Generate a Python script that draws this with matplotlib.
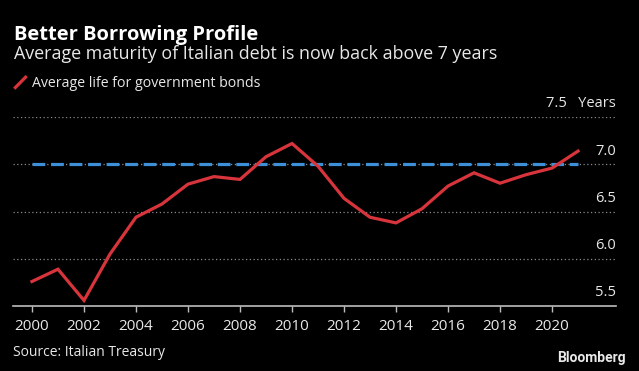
import matplotlib

matplotlib.use("Agg")
import matplotlib.pyplot as plt
from matplotlib.lines import Line2D

years = list(range(2000, 2022))
avg_life = [5.76, 5.89, 5.56, 6.05, 6.44, 6.58, 6.79, 6.87, 6.84, 7.08, 7.22,
            6.98, 6.64, 6.44, 6.38, 6.53, 6.77, 6.91, 6.80, 6.89, 6.96, 7.14]
reference_level = 7.0
y_ticks = [5.5, 6.0, 6.5, 7.0, 7.5]
y_labels = ["5.5", "6.0", "6.5", "7.0", "7.5   Years"]
x_ticks = list(range(2000, 2021, 2))

BG = "#000000"
TEXT = "#e8e8e8"
RED = "#d8343b"
BLUE = "#3d8fd8"
GRID = "#8a8a8a"
FONT = ["Open Sans", "DejaVu Sans"]

plt.rcParams["font.family"] = FONT

fig = plt.figure(figsize=(6.39, 3.71), dpi=100, facecolor=BG)
ax = fig.add_axes([0.0203, 0.175, 0.9437, 0.5095], facecolor=BG)

ax.set_xlim(1999.27, 2022.46)
ax.set_ylim(5.5, 7.5)

for v in y_ticks[1:]:
    ax.axhline(v, color=GRID, lw=0.9, ls=(0, (1, 2)), zorder=1)
for v, lab in zip(y_ticks, y_labels):
    ax.annotate(lab, xy=(1, v), xycoords=("axes fraction", "data"),
                xytext=(0, 9.5), textcoords="offset points",
                ha="right", va="center", color=TEXT, fontsize=10.5)

ax.plot([years[0], years[-1]], [reference_level, reference_level],
        color=BLUE, lw=2.3, ls=(0, (4, 1.8)), zorder=2)
ax.plot(years, avg_life, color=RED, lw=2.3, zorder=3, solid_joinstyle="miter")

for s in ["top", "right", "left"]:
    ax.spines[s].set_visible(False)
ax.spines["bottom"].set_color("#bdbdbd")
ax.spines["bottom"].set_linewidth(1.2)
ax.set_yticks([])
ax.set_xticks(x_ticks)
ax.set_xticklabels([str(x) for x in x_ticks])
ax.tick_params(axis="x", colors="#bdbdbd", length=4, width=1.0, pad=5,
               labelcolor=TEXT, labelsize=11)

fig.text(0.022, 0.907, "Better Borrowing Profile", color="white",
         fontsize=14.5, fontweight="bold", va="center")
fig.text(0.022, 0.855, "Average maturity of Italian debt is now back above 7 years",
         color=TEXT, fontsize=12.9, va="center")
fig.add_artist(Line2D([0.024, 0.040], [0.764, 0.792], transform=fig.transFigure,
                      color=RED, lw=2.3))
fig.text(0.05, 0.776, "Average life for government bonds", color=TEXT,
         fontsize=10.2, va="center")
fig.text(0.021, 0.051, "Source: Italian Treasury", color=TEXT,
         fontsize=10, va="center")
fig.text(0.98, 0.035, "Bloomberg", color=TEXT, fontsize=10,
         fontweight="bold", ha="right", va="center", family=["Roboto", "DejaVu Sans"])

fig.savefig("out.png", dpi=100, facecolor=BG)
